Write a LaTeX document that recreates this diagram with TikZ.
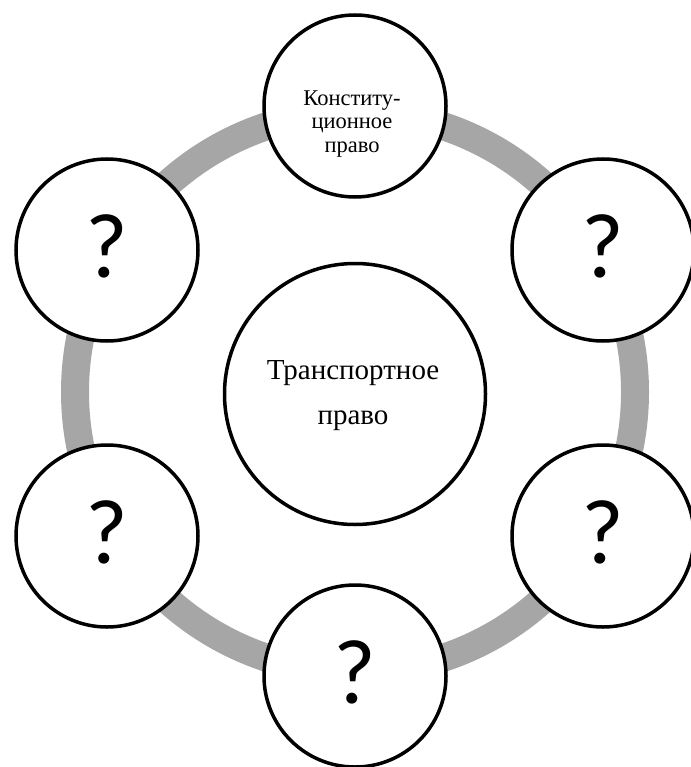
\documentclass[tikz,border=0pt]{standalone}
\usepackage{fontspec}
\setmainfont{Liberation Serif}
\newfontfamily\qfont{Carlito}
\definecolor{ringgray}{HTML}{A6A6A6}
\begin{document}
\begin{tikzpicture}[x=1pt,y=-1pt,
  smallc/.style={circle,draw=black,line width=3.5pt,fill=white,minimum size=182pt,inner sep=0pt,
    font=\qfont\fontsize{92}{92}\selectfont,text depth=8pt},
  bigc/.style={circle,draw=black,line width=3.5pt,fill=white,minimum size=261pt,inner sep=0pt},
  ringline/.style={draw=ringgray,line width=28pt},
  toptext/.style={font=\fontsize{22.5}{23.5}\selectfont,align=center,inner sep=0pt},
  centertext/.style={font=\fontsize{29}{45}\selectfont,align=center,inner sep=0pt}]
\useasboundingbox (0,0) rectangle (690,767);
\coordinate (o) at (355,392);
\draw[ringline] (o) circle[radius=280pt];
\node[bigc] (center) at (355,394) {};
\node[centertext] (ctext) at (353,396) {Транспортное\\право};
\node[smallc] (top) at (355,106) {};
\node[toptext] (ttext) at (352,124) {Конститу-\\ционное\\право};
\node[smallc] (ur) at (603,250) {?};
\node[smallc] (lr) at (603,536) {?};
\node[smallc] (bot) at (355,676) {?};
\node[smallc] (ll) at (107,536) {?};
\node[smallc] (ul) at (107,250) {?};
\end{tikzpicture}
\end{document}
